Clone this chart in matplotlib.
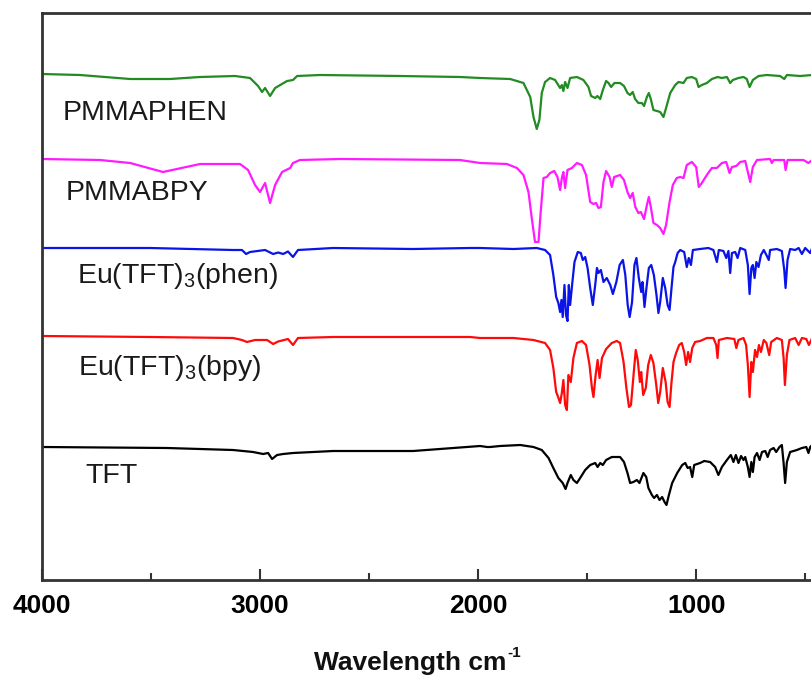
import matplotlib
matplotlib.use("Agg")
import matplotlib.pyplot as plt
from matplotlib.ticker import MultipleLocator
from matplotlib.transforms import offset_copy

plt.rcParams['font.family'] = ['Liberation Sans', 'DejaVu Sans']
plt.rcParams['mathtext.default'] = 'regular'

# ---- data: wavenumber (cm-1) and offset transmittance (a.u.) ----
pmmaphen_x = [4000, 3826, 3596, 3413, 3275, 3115, 3046, 3009, 2991, 2977, 2954, 2931, 2876, 2849, 2830, 2725, 2358, 2083,
              1991, 1853, 1792, 1761, 1746, 1731, 1719, 1708, 1693, 1670, 1647, 1624, 1616, 1609, 1601, 1590, 1578, 1547,
              1517, 1494, 1482, 1463, 1453, 1440, 1428, 1413, 1402, 1390, 1375, 1349, 1331, 1315, 1303, 1291, 1280, 1265,
              1249, 1239, 1226, 1217, 1208, 1196, 1180, 1165, 1150, 1138, 1119, 1096, 1081, 1058, 1043, 1020, 1000, 989,
              974, 951, 928, 902, 882, 859, 844, 832, 806, 783, 768, 755, 740, 714, 676, 615, 596, 584, 523, 468, 400]
pmmaphen_y = [506, 505, 501, 501, 503, 504, 502, 494, 488, 492, 484, 492, 499, 500, 504, 505, 504, 503,
              502, 501, 497, 483, 463, 451, 460, 487, 498, 502, 500, 492, 495, 489, 498, 492, 502, 503,
              500, 493, 484, 482, 484, 481, 490, 499, 497, 493, 497, 497, 494, 487, 485, 488, 481, 477,
              477, 474, 483, 487, 481, 470, 469, 468, 463, 472, 487, 495, 498, 497, 502, 503, 501, 493,
              495, 497, 501, 503, 502, 503, 497, 500, 502, 503, 501, 493, 500, 504, 505, 504, 501, 505, 504, 505, 505]

pmmabpy_x = [4000, 3734, 3596, 3445, 3275, 3092, 3055, 3023, 3000, 2977, 2954, 2931, 2899, 2862, 2849, 2817, 2633, 2083,
             1991, 1868, 1822, 1792, 1769, 1754, 1739, 1723, 1713, 1700, 1685, 1670, 1651, 1636, 1624, 1616, 1609, 1601,
             1590, 1570, 1547, 1524, 1505, 1486, 1471, 1459, 1448, 1437, 1425, 1413, 1397, 1387, 1376, 1349, 1331, 1315,
             1303, 1291, 1279, 1265, 1254, 1239, 1226, 1217, 1208, 1196, 1180, 1165, 1150, 1138, 1122, 1107, 1089, 1073,
             1058, 1043, 1020, 1000, 988, 974, 951, 928, 905, 882, 862, 847, 836, 816, 798, 775, 763, 752, 740, 721,
             661, 653, 645, 596, 590, 581, 508, 485, 468, 400]
pmmabpy_y = [421, 420, 417, 408, 416, 416, 410, 395, 388, 397, 377, 395, 408, 412, 417, 420, 421, 420,
             417, 416, 412, 405, 388, 362, 338, 338, 368, 402, 403, 407, 409, 403, 390, 402, 408, 392,
             410, 412, 417, 415, 405, 378, 376, 377, 372, 373, 398, 409, 403, 393, 403, 405, 400, 388,
             382, 387, 373, 367, 368, 361, 375, 383, 373, 357, 355, 352, 346, 355, 378, 395, 402, 403,
             402, 415, 418, 413, 393, 397, 405, 412, 412, 417, 418, 407, 413, 414, 418, 419, 408, 398, 413, 420,
             421, 417, 420, 420, 410, 420, 420, 417, 420, 420]

euphen_x = [4000, 3505, 3124, 3083, 3064, 3046, 2977, 2940, 2917, 2894, 2872, 2849, 2826, 2665, 2298, 2037,
            1991, 1838, 1731, 1693, 1670, 1655, 1642, 1632, 1624, 1618, 1612, 1604, 1597, 1590, 1584, 1578, 1569,
            1558, 1543, 1529, 1520, 1509, 1498, 1486, 1474, 1463, 1455, 1448, 1437, 1425, 1410, 1394, 1382, 1366,
            1351, 1336, 1325, 1314, 1305, 1294, 1283, 1274, 1263, 1252, 1246, 1237, 1228, 1217, 1206, 1194, 1182,
            1173, 1165, 1153, 1142, 1131, 1122, 1113, 1104, 1096, 1085, 1073, 1055, 1043, 1034, 1024, 1015, 982,
            944, 921, 905, 896, 875, 862, 852, 844, 836, 821, 810, 798, 775, 763, 755, 747, 740, 732, 724, 714,
            703, 690, 678, 667, 661, 630, 607, 596, 590, 581, 569, 546, 530, 515, 500, 477, 468, 400]
euphen_y = [332, 332, 330, 330, 326, 328, 330, 326, 327.5, 326, 328.5, 323, 330, 332, 331, 332,
            332, 331, 332, 330, 325, 305, 283, 277, 268, 280, 263, 295, 265, 259, 295, 275, 295,
            318, 328, 327, 320, 323, 312, 292, 275, 295, 312, 307, 310, 298, 302, 295, 286, 298,
            315, 320, 305, 275, 263, 278, 315, 322, 302, 288, 298, 273, 292, 312, 315, 305, 285,
            267, 278, 302, 292, 275, 270, 292, 313, 318, 327, 330, 328, 313, 322, 315, 330, 331,
            332, 330, 318, 330, 329, 322, 329, 307, 327, 328, 322, 332, 330, 315, 286, 312, 315, 302, 318, 313,
            325, 330, 325, 320, 330, 331, 329, 310, 292, 320, 331, 330, 332, 326, 332, 327, 332, 332]

eubpy_x = [4000, 3505, 3124, 3083, 3060, 3023, 2968, 2940, 2917, 2872, 2849, 2826, 2665, 2037,
           1991, 1838, 1746, 1693, 1670, 1655, 1642, 1633, 1624, 1616, 1609, 1601, 1593, 1586, 1575, 1563,
           1547, 1524, 1505, 1489, 1478, 1471, 1461, 1452, 1443, 1432, 1413, 1387, 1364, 1349, 1333, 1320,
           1308, 1299, 1286, 1277, 1268, 1258, 1252, 1243, 1231, 1220, 1208, 1196, 1183, 1174, 1165, 1153,
           1140, 1131, 1122, 1113, 1104, 1092, 1078, 1066, 1055, 1046, 1037, 1028, 1018, 1005, 982, 951,
           921, 908, 902, 896, 859, 825, 816, 806, 783, 771, 763, 755, 747, 740, 730, 721, 712, 703, 690,
           678, 665, 656, 630, 607, 599, 593, 584, 572, 546, 530, 515, 495, 483, 468, 400]
eubpy_y = [244, 243, 242, 240, 238, 240, 240, 236, 238.5, 241, 235, 242, 243, 243,
           242, 242, 240, 237, 230, 212, 188, 183, 177, 187, 200, 175, 170, 205, 198, 222,
           237, 239, 235, 215, 192, 183, 205, 220, 202, 222, 231, 237, 239, 237, 218, 192,
           173, 175, 208, 230, 220, 198, 208, 185, 192, 215, 225, 217, 195, 177, 188, 212,
           198, 178, 173, 198, 218, 227, 235, 237, 228, 215, 228, 218, 232, 238, 239, 242,
           242, 235, 222, 240, 242, 241, 232, 240, 242, 235, 215, 183, 218, 208, 230, 223, 235, 228, 240,
           237, 225, 238, 242, 240, 222, 195, 225, 240, 242, 235, 242, 241, 235, 242, 242]

tft_x = [4000, 3427, 3124, 3032, 2986, 2963, 2945, 2922, 2894, 2849, 2665, 2298, 1959,
         1991, 1945, 1899, 1807, 1746, 1708, 1677, 1655, 1632, 1612, 1599, 1590, 1575, 1563, 1547, 1532,
         1509, 1486, 1463, 1452, 1440, 1428, 1413, 1387, 1349, 1331, 1315, 1303, 1288, 1272, 1260, 1251,
         1242, 1229, 1219, 1203, 1193, 1180, 1168, 1156, 1145, 1136, 1125, 1110, 1087, 1064, 1050, 1039,
         1028, 1018, 1009, 982, 963, 936, 913, 898, 882, 859, 841, 829, 818, 806, 794, 783, 775, 763, 755,
         747, 740, 732, 721, 709, 698, 683, 672, 661, 645, 633, 618, 607, 599, 592, 584, 569, 538, 515,
         495, 485, 477, 468, 400]
tft_y = [133, 132, 130, 128, 126, 127, 121, 125, 126, 127, 129, 129, 133,
         134, 133, 134, 135, 133, 130, 122, 112, 102, 97, 91, 97, 105, 100, 97, 102,
         110, 115, 117, 113, 117, 115, 120, 123, 123, 118, 107, 97, 98, 100, 97, 102,
         107, 103, 92, 85, 82, 85, 80, 83, 78, 75, 85, 97, 107, 115, 117, 112,
         113, 103, 115, 117, 119, 118, 113, 105, 113, 120, 125, 118, 125, 117, 124, 120, 123, 113, 103,
         118, 108, 123, 127, 120, 128, 129, 123, 130, 132, 128, 133, 135, 117, 97, 118, 128, 130, 132,
         133, 127, 133, 135, 135]

names = ['PMMAPHEN', 'PMMABPY', 'Eu(TFT)$_3$(phen)', 'Eu(TFT)$_3$(bpy)', 'TFT']
series_x = [pmmaphen_x, pmmabpy_x, euphen_x, eubpy_x, tft_x]
series_y = [pmmaphen_y, pmmabpy_y, euphen_y, eubpy_y, tft_y]
colors = ['#228b22', '#ff1aff', '#0a14e6', '#ff0a0a', '#000000']
label_pos = [(3905, 460), (3890, 380), (3840, 297), (3836, 205), (3800, 97)]

W, H = 812, 679
fig = plt.figure(figsize=(W / 100, H / 100), dpi=100)
ax = fig.add_axes([42 / W, 1 - 580 / H, (827 - 42) / W, (580 - 13) / H])

for xs, ys, c in zip(series_x, series_y, colors):
    pts = sorted(zip(xs, ys), key=lambda p: -p[0])
    ax.plot([p[0] for p in pts], [p[1] for p in pts], color=c, lw=1.6)

for name, (lx, ly) in zip(names, label_pos):
    ax.text(lx, ly, name, fontsize=20.5, color='#1a1a1a', ha='left', va='baseline')

ax.set_xlim(4000, 400)
ax.set_ylim(0, 567)
ax.xaxis.set_major_locator(MultipleLocator(1000))
ax.xaxis.set_minor_locator(MultipleLocator(500))
ax.tick_params(axis='x', which='major', direction='in', length=8, width=1.5, color='#333333', pad=10,
               labelsize=19)
ax.tick_params(axis='x', which='minor', direction='in', length=5, width=1.5, color='#333333')
for lab in ax.get_xticklabels():
    lab.set_fontweight('bold')
ax.set_yticks([])
for s in ['left', 'top', 'bottom']:
    ax.spines[s].set_linewidth(2)
    ax.spines[s].set_color('#333333')
ax.spines['right'].set_visible(False)

# x-axis title with a small hyphen superscript, as in the original
fig.text(410 / W, 1 - 670 / H, 'Wavelength cm', fontsize=19, fontweight='bold',
         ha='center', va='baseline', color='#111111')
fig.canvas.draw()
t_main = fig.texts[0]
bb = t_main.get_window_extent(renderer=fig.canvas.get_renderer())
fig.text((bb.x1 + 1) / W, (bb.y1 - 6) / H, '-1', fontsize=11, fontweight='bold',
         ha='left', va='baseline', color='#111111')

fig.savefig('out.png', dpi=100)
